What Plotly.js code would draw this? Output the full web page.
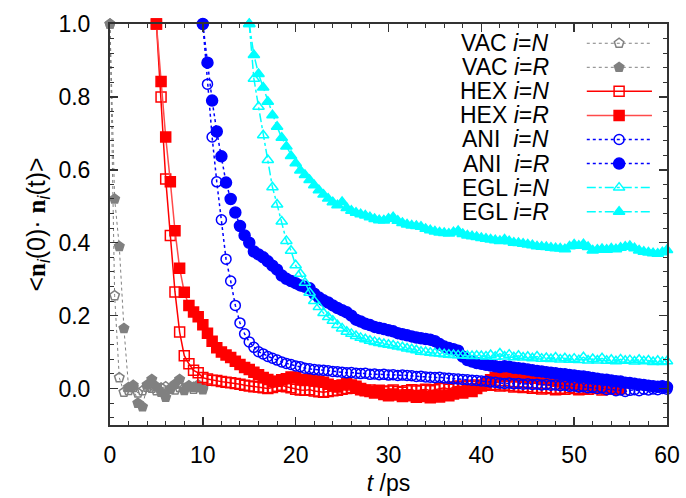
<!DOCTYPE html>
<html>
<head>
<meta charset="utf-8">
<script src="https://cdn.plot.ly/plotly-3.0.1.min.js"></script>
<style>html,body{margin:0;padding:0;background:#fff;}#chart{width:686px;height:498px;}</style>
</head>
<body>
<div id="chart"></div>
<script>
// ---- data (time step 0.5 ps) ----
const DT = 0.5;
const vacStart = 0, hexStart = 5, aniStart = 10, eglStart = 15;

const vacN = [1.0, 0.255, 0.03, -0.01, -0.005, 0.003, -0.012, -0.006, 0.004, 0.001, -0.006, 0.002, 0.005, -0.002, -0.004, 0.003, 0.0, 0.006, -0.002, 0.003, 0.001];
const vacR = [1.0, 0.52, 0.39, 0.165, 0.003, 0.009, -0.04, -0.05, 0.01, 0.025, 0.005, -0.01, -0.024, 0.0, 0.012, 0.025, -0.005, 0.008, 0.004, 0.01, -0.003];

const hexN = [1.0, 0.80, 0.575, 0.42, 0.265, 0.155, 0.09, 0.068, 0.05, 0.043,
  0.03, 0.026, 0.023, 0.022, 0.019, 0.017, 0.016, 0.014, 0.012, 0.009,
  0.007, 0.005, 0.004, 0.002, 0.0, 0.003, 0.006, 0.009, 0.005, 0.002,
  -0.002, -0.004, -0.005, -0.003, -0.007, -0.009, -0.01, -0.008, -0.006, -0.005,
  -0.002, 0.0, 0.003, 0.001, -0.003, -0.006, -0.004, -0.008, -0.005, -0.009,
  -0.007, -0.004, -0.008, -0.01, -0.006, -0.003, -0.007, -0.005, -0.002, -0.006,
  -0.003, 0.0, 0.002, -0.002, 0.004, 0.007, 0.005, 0.009, 0.006, 0.01,
  0.008, 0.012, 0.009, 0.011, 0.007, 0.01, 0.008, 0.004, 0.006, 0.003,
  0.005, 0.001, 0.003, -0.001, 0.002, 0.0, -0.003, 0.001, -0.002, 0.002,
  0.0, -0.003, 0.001, -0.002, 0.002, 0.0, -0.004, -0.001, 0.001, -0.002, 0.0];
const hexR = [1.0, 0.842, 0.69, 0.567, 0.433, 0.33, 0.264, 0.228, 0.21, 0.197,
  0.175, 0.152, 0.13, 0.112, 0.1, 0.092, 0.085, 0.075, 0.066, 0.058,
  0.052, 0.045, 0.038, 0.03, 0.025, 0.019, 0.02, 0.024, 0.027, 0.032,
  0.03, 0.025, 0.022, 0.024, 0.021, 0.02, 0.017, 0.012, 0.008, 0.004,
  0.01, 0.014, 0.01, 0.006, 0.0, -0.005, -0.008, -0.012, -0.01, -0.016,
  -0.02, -0.015, -0.018, -0.022, -0.017, -0.02, -0.024, -0.019, -0.022, -0.025,
  -0.02, -0.023, -0.018, -0.02, -0.015, -0.01, -0.012, -0.005, -0.008, 0.0,
  0.008, 0.015, 0.024, 0.03, 0.036, 0.033, 0.038, 0.034, 0.036, 0.031,
  0.033, 0.028, 0.03, 0.025, 0.027, 0.022, 0.02, 0.018, 0.016, 0.014,
  0.012, 0.01, 0.008, 0.009, 0.005, 0.006, 0.003, 0.004, 0.001, 0.002, 0.0];

const aniN = [1.0, 0.835, 0.69, 0.567, 0.463, 0.355, 0.295, 0.228, 0.18, 0.15,
  0.128, 0.113, 0.101, 0.095, 0.088, 0.083, 0.078, 0.073, 0.069, 0.066,
  0.062, 0.06, 0.056, 0.054, 0.052, 0.051, 0.05, 0.049, 0.047, 0.046,
  0.045, 0.043, 0.044, 0.042, 0.041, 0.042, 0.039, 0.04, 0.038, 0.039,
  0.037, 0.038, 0.036, 0.037, 0.036, 0.035, 0.033, 0.034, 0.032, 0.031,
  0.03, 0.031, 0.029, 0.028, 0.027, 0.026, 0.025, 0.024, 0.023, 0.022,
  0.021, 0.02, 0.018, 0.017, 0.015, 0.014, 0.015, 0.013, 0.014, 0.012,
  0.013, 0.011, 0.012, 0.01, 0.011, 0.009, 0.01, 0.008, 0.009, 0.006,
  0.007, 0.004, 0.005, 0.002, 0.003, 0.0, 0.002, -0.003, -0.001, -0.006,
  -0.004, -0.008, -0.005, -0.003, -0.006, -0.002, -0.004, -0.001, -0.003, 0.0, -0.002];
const aniR = [1.0, 0.894, 0.79, 0.705, 0.637, 0.565, 0.52, 0.483, 0.446, 0.42,
  0.4, 0.376, 0.368, 0.36, 0.349, 0.337, 0.326, 0.31, 0.301, 0.295,
  0.289, 0.283, 0.279, 0.275, 0.26, 0.25, 0.242, 0.236, 0.228, 0.221,
  0.215, 0.209, 0.2, 0.189, 0.184, 0.178, 0.174, 0.169, 0.166, 0.163,
  0.16, 0.157, 0.152, 0.149, 0.146, 0.143, 0.14, 0.138, 0.136, 0.134,
  0.13, 0.122, 0.115, 0.111, 0.108, 0.104, 0.088, 0.078, 0.074, 0.07,
  0.068, 0.065, 0.063, 0.061, 0.059, 0.061, 0.06, 0.057, 0.056, 0.054,
  0.052, 0.05, 0.048, 0.047, 0.045, 0.043, 0.042, 0.04, 0.039, 0.037,
  0.036, 0.034, 0.033, 0.031, 0.029, 0.027, 0.025, 0.024, 0.022, 0.02,
  0.019, 0.016, 0.015, 0.013, 0.011, 0.01, 0.008, 0.006, 0.005, 0.006, 0.004];

const eglN = [1.0, 0.85, 0.773, 0.695, 0.627, 0.552, 0.505, 0.458, 0.405, 0.378,
  0.338, 0.315, 0.29, 0.263, 0.24, 0.224, 0.207, 0.196, 0.186, 0.174,
  0.165, 0.156, 0.15, 0.144, 0.139, 0.135, 0.131, 0.128, 0.125, 0.122,
  0.12, 0.118, 0.115, 0.113, 0.11, 0.108, 0.105, 0.101, 0.1, 0.098,
  0.097, 0.096, 0.094, 0.093, 0.092, 0.091, 0.091, 0.09, 0.089, 0.09,
  0.089, 0.088, 0.092, 0.087, 0.096, 0.088, 0.093, 0.086, 0.09, 0.085,
  0.087, 0.083, 0.088, 0.082, 0.084, 0.081, 0.085, 0.08, 0.083, 0.079,
  0.082, 0.078, 0.086, 0.077, 0.081, 0.077, 0.083, 0.076, 0.079, 0.075,
  0.08, 0.076, 0.078, 0.074, 0.079, 0.075, 0.077, 0.073, 0.076, 0.073, 0.075];
const eglR = [1.0, 0.915, 0.863, 0.826, 0.787, 0.75, 0.718, 0.688, 0.664, 0.638,
  0.618, 0.598, 0.586, 0.572, 0.558, 0.544, 0.532, 0.521, 0.511, 0.503,
  0.512, 0.495, 0.488, 0.482, 0.478, 0.475, 0.47, 0.465, 0.462, 0.461,
  0.466, 0.47, 0.46, 0.454, 0.45, 0.447, 0.446, 0.444, 0.438, 0.434,
  0.431, 0.428, 0.427, 0.425, 0.429, 0.432, 0.424, 0.42, 0.418, 0.416,
  0.413, 0.411, 0.409, 0.407, 0.405, 0.409, 0.404, 0.4, 0.399, 0.397,
  0.395, 0.393, 0.39, 0.389, 0.388, 0.386, 0.385, 0.384, 0.382, 0.39,
  0.395, 0.392, 0.396, 0.388, 0.379, 0.381, 0.383, 0.381, 0.384, 0.382,
  0.386, 0.389, 0.391, 0.385, 0.379, 0.375, 0.373, 0.371, 0.37, 0.374, 0.38];

const legendLabels = ['VAC <i>i</i>=<i>N</i>', 'VAC <i>i</i>=<i>R</i>', 'HEX <i>i</i>=<i>N</i>', 'HEX <i>i</i>=<i>R</i>',
  'ANI&nbsp;&nbsp;<i>i</i>=<i>N</i>', 'ANI&nbsp;&nbsp;<i>i</i>=<i>R</i>', 'EGL <i>i</i>=<i>N</i>', 'EGL <i>i</i>=<i>R</i>'];

// ---- styles ----
const GRAY = '#808080', RED = '#ff0000', BLUE = '#0000ff', CYAN = '#00ffff';
const styles = [
  {y: vacN, t0: vacStart, color: GRAY, lineColor: GRAY, dash: 'dot', lw: 1, sym: 'pentagon-open', size: 10},
  {y: vacR, t0: vacStart, color: GRAY, lineColor: GRAY, dash: 'dot', lw: 1, sym: 'pentagon', size: 10},
  {y: hexN, t0: hexStart, color: RED, lineColor: RED, dash: 'solid', lw: 1.5, sym: 'square-open', size: 10},
  {y: hexR, t0: hexStart, color: RED, lineColor: '#ff4a4a', dash: 'solid', lw: 1.5, sym: 'square', size: 10},
  {y: aniN, t0: aniStart, color: BLUE, lineColor: BLUE, dash: 'dot', lw: 1.5, sym: 'circle-open', size: 10},
  {y: aniR, t0: aniStart, color: BLUE, lineColor: BLUE, dash: 'dot', lw: 1.5, sym: 'circle', size: 11},
  {y: eglN, t0: eglStart, color: CYAN, lineColor: CYAN, dash: 'dashdot', lw: 1.5, sym: 'triangle-up-open', size: 10},
  {y: eglR, t0: eglStart, color: CYAN, lineColor: CYAN, dash: 'dashdot', lw: 1.5, sym: 'triangle-up', size: 10}
];

const traces = styles.map(s => ({
  type: 'scatter', mode: 'lines+markers',
  x: s.y.map((_, i) => s.t0 + i * DT), y: s.y,
  line: {color: s.lineColor, width: s.lw, dash: s.dash},
  marker: {symbol: s.sym, size: s.size, color: s.color, line: {color: s.color, width: 1.5}},
  showlegend: false, hoverinfo: 'skip', cliponaxis: false
}));

// ---- custom gnuplot-style key (text left, sample right) ----
const keyTop = 0.952, keyStep = 0.06, keyTextX = 0.792, keyL = 0.856, keyM = 0.914, keyR = 0.973;
const annotations = [];
styles.forEach((s, i) => {
  const ky = keyTop - i * keyStep;
  traces.push({
    type: 'scatter', mode: 'lines+markers', xaxis: 'x2', yaxis: 'y2',
    x: [keyL, keyM, keyR], y: [ky, ky, ky],
    line: {color: s.lineColor, width: s.lw, dash: s.dash},
    marker: {symbol: s.sym, size: s.size, color: s.color, opacity: [0, 1, 0], line: {color: s.color, width: 1.5}},
    showlegend: false, hoverinfo: 'skip'
  });
  annotations.push({
    xref: 'paper', yref: 'paper', x: keyTextX, y: ky, xanchor: 'right', yanchor: 'middle',
    text: legendLabels[i], showarrow: false,
    font: {family: 'Liberation Sans, Arial, sans-serif', size: 23, color: '#000'}
  });
});

const FONT = {family: 'Liberation Sans, Arial, sans-serif', size: 23, color: '#000'};
const AX = '#333';
const nB = '<b><span style="font-family:Liberation Serif">n</span></b>';

const layout = {
  width: 686, height: 498,
  margin: {l: 110, r: 19, t: 24, b: 73, pad: 0},
  paper_bgcolor: '#fff', plot_bgcolor: '#fff',
  font: FONT,
  showlegend: false,
  xaxis: {
    range: [0, 60], tick0: 0, dtick: 10, ticks: 'inside', ticklen: 8, tickwidth: 1.5, tickcolor: AX,
    showline: true, linecolor: AX, linewidth: 2, mirror: 'allticks', showgrid: false, zeroline: false,
    minor: {ticks: 'inside', dtick: 2, ticklen: 4, tickwidth: 1, tickcolor: AX, showgrid: false},
    tickfont: FONT, ticklabelstandoff: 8,
    title: {text: '<i>t</i> /ps', font: FONT, standoff: 8}
  },
  yaxis: {
    range: [-0.1, 1.0], tick0: 0, dtick: 0.2, tickformat: '.1f', ticks: 'inside', ticklen: 8, tickwidth: 1.5, tickcolor: AX,
    showline: true, linecolor: AX, linewidth: 2, mirror: 'allticks', showgrid: false, zeroline: false,
    minor: {ticks: 'inside', tick0: 0, dtick: 0.04, ticklen: 4, tickwidth: 1, tickcolor: AX, showgrid: false},
    tickfont: FONT, ticklabelstandoff: 13,
    title: {text: '&lt;' + nB + '<sub><i>i</i></sub>(0)·&nbsp;' + nB + '<sub><i>i</i></sub>(t)&gt;', font: {family: FONT.family, size: 25, color: '#000'}, standoff: 6}
  },
  xaxis2: {overlaying: 'x', anchor: 'y2', range: [0, 1], visible: false, fixedrange: true},
  yaxis2: {overlaying: 'y', anchor: 'x2', range: [0, 1], visible: false, fixedrange: true},
  annotations: annotations
};

Plotly.newPlot('chart', traces, layout, {displayModeBar: false, staticPlot: true});
</script>
</body>
</html>
